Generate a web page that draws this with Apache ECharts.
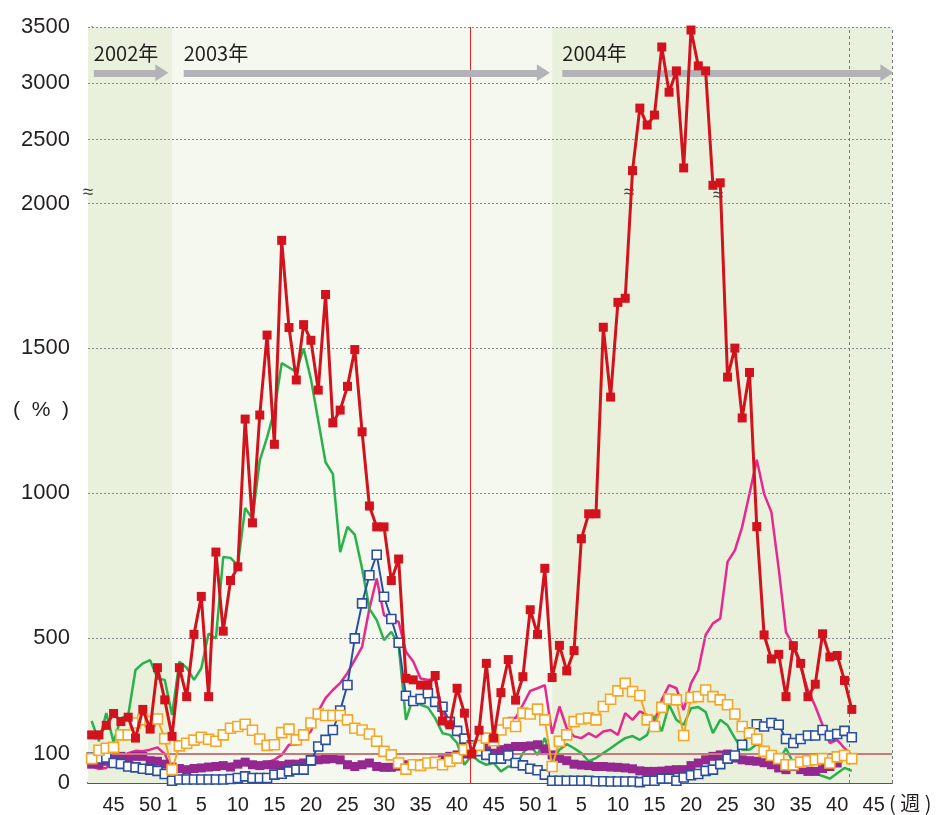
<!DOCTYPE html>
<html>
<head>
<meta charset="utf-8">
<script src="https://cdn.jsdelivr.net/npm/echarts@6.0.0/dist/echarts.min.js"></script>
<style>
html, body { margin: 0; padding: 0; background: #fff; }
#main { width: 942px; height: 815px; }
</style>
</head>
<body>
<div id="main"></div>
<script>
// 週番号 (2002年42週 〜 2004年47週)
var weekNo = [42,43,44,45,46,47,48,49,50,51,52,
    1,2,3,4,5,6,7,8,9,10,11,12,13,14,15,16,17,18,19,20,21,22,23,24,25,26,27,28,29,30,
    31,32,33,34,35,36,37,38,39,40,41,42,43,44,45,46,47,48,49,50,51,52,
    1,2,3,4,5,6,7,8,9,10,11,12,13,14,15,16,17,18,19,20,21,22,23,24,25,26,27,28,29,30,
    31,32,33,34,35,36,37,38,39,40,41,42,43,44,45,46,47];

var yTicks = [0, 100, 500, 1000, 1500, 2000, 2500, 3000, 3500];
var gridValues = [500, 1000, 1500, 2000, 2500, 3000, 3500];

var redData = [166,166,199,240,212,227,155,254,186,398,287,
    161,398,298,513,644,298,797,524,699,746,1256,898,1270,1546,1169,1873,1572,1391,1582,1528,
    1356,1686,1243,1287,1369,1496,1212,956,884,884,699,773,361,356,338,338,371,214,201,327,
    241,100,182,413,155,312,426,286,367,598,513,741,
    364,475,387,457,843,929,929,1573,1332,1659,1673,2258,2778,2629,2717,3321,2918,3107,2279,3473,
    3152,3107,2143,2162,1401,1501,1260,1417,885,511,428,444,298,474,413,298,341,515,435,440,354,254];

var greenData = [214,144,241,141,224,234,390,413,424,361,356,
    235,419,398,356,396,516,499,780,777,751,949,912,1113,1193,1285,1449,1434,1419,1500,1394,
    1251,1107,1067,797,884,857,740,602,562,493,522,476,218,295,270,261,224,172,166,138,
    63,95,75,63,69,40,57,57,103,132,97,155,
    75,115,134,120,103,75,86,103,120,138,155,162,149,166,231,179,270,218,200,258,
    262,245,172,218,199,155,115,115,134,120,100,75,120,69,46,52,34,24,15,34,52,42];

var blueData = [88,84,88,69,66,57,54,49,46,42,31,
    8,12,12,12,12,12,12,12,14,17,23,17,17,17,29,32,40,46,46,78,
    126,149,183,250,338,499,620,717,788,643,566,484,301,283,290,310,280,263,211,180,
    153,130,110,97,84,84,95,69,61,49,44,29,
    8,8,8,8,8,8,6,6,5,5,5,5,3,8,8,15,15,8,19,27,
    31,42,46,65,84,95,132,175,203,195,207,201,152,138,152,164,164,183,164,169,180,158];

var orangeData = [84,113,120,123,166,166,207,218,212,221,153,
    46,128,137,148,158,151,144,166,189,195,203,182,152,130,132,174,186,149,166,207,
    238,233,233,233,218,189,183,169,144,109,97,69,48,63,61,69,71,63,75,86,
    115,120,130,155,146,183,207,195,241,238,255,218,
    57,144,166,212,221,224,218,264,289,318,344,316,302,218,195,261,290,287,164,295,
    298,321,298,287,270,238,195,172,151,109,95,84,63,63,72,77,80,84,69,90,95,84];

var purpleData = [65,65,75,85,92,88,92,92,77,75,65,
    55,50,46,50,52,55,57,60,55,65,72,63,60,63,63,60,65,65,69,75,
    80,82,84,80,63,57,63,69,57,54,54,58,63,63,66,69,75,80,92,97,
    100,103,109,120,103,115,120,126,126,128,132,118,
    97,85,77,65,62,60,57,57,55,54,52,49,42,40,40,41,44,46,46,60,
    69,80,92,97,100,86,80,77,75,70,63,52,46,57,46,40,40,50,57,69];

var pinkData = [60,48,52,75,92,103,111,110,115,123,100,
    45,55,50,55,60,62,58,62,66,70,64,57,69,72,80,97,132,132,155,178,
    247,293,321,345,380,425,470,602,706,579,566,556,453,419,361,356,356,247,201,172,
    140,115,100,120,150,189,224,224,270,318,327,338,
    170,264,189,161,155,172,158,178,183,166,241,218,247,235,212,287,338,327,252,344,
    390,511,551,568,763,803,884,998,1116,998,935,740,520,476,400,320,265,200,138,149,120,95];

// 2000以上は縦軸を圧縮 (値 -> 軸上の位置)
var breakPts = [[0, 0], [2000, 581], [2500, 645], [3000, 702], [3500, 758]];
function toAxis(v) {
    for (var k = 1; k < breakPts.length; k++) {
        if (v <= breakPts[k][0] || k == breakPts.length - 1) {
            var a = breakPts[k - 1], b = breakPts[k];
            return a[1] + (v - a[0]) * (b[1] - a[1]) / (b[0] - a[0]);
        }
    }
}
function fromAxis(p) {
    for (var k = 0; k < yTicks.length; k++) {
        if (Math.abs(toAxis(yTicks[k]) - p) < 0.5) return yTicks[k];
    }
    return '';
}

var myChart;
var FONT = '"Liberation Sans", Arial, sans-serif';

function lineSeries(name, data, color, width, symbol, size, filled, z) {
    return {
        name: name,
        type: 'line',
        z: z,
        data: data.map(function (v) { return toAxis(v); }),
        symbol: symbol,
        symbolSize: size,
        showSymbol: symbol != 'none',
        showAllSymbol: true,
        lineStyle: { color: color, width: width },
        itemStyle: filled ? { color: color } : { color: '#fff', borderColor: color, borderWidth: 1.6 },
        emphasis: { disabled: true }
    };
}

function buildChart() {
    myChart = echarts.init(document.getElementById('main'), null, { renderer: 'canvas' });

    var gridLines = gridValues.map(function (v) { return { yAxis: toAxis(v) }; });

    var arrowStyle = { color: '#b2b2b7', width: 7, type: 'solid' };
    function arrow(x0, x1, text) {
        var y = toAxis(3090);
        return [
            { coord: [x0, y], symbol: 'none', lineStyle: arrowStyle,
              label: { show: true, position: 'insideStartTop', formatter: text, distance: [0, 9],
                       color: '#231f20', fontSize: 20, fontFamily: '"Noto Sans CJK JP", ' + FONT } },
            { coord: [x1, y], symbol: 'triangle', symbolSize: [17, 13] }
        ];
    }

    var option = {
        animation: false,
        backgroundColor: '#fff',
        grid: { left: 88, top: 27, width: 804, height: 758, containLabel: false },
        xAxis: [{
            type: 'category',
            data: weekNo.map(function (w, i) { return String(i); }),
            boundaryGap: true,
            axisLine: { lineStyle: { color: '#555', width: 2 } },
            axisTick: { inside: true, length: 4, interval: 0, alignWithLabel: true, lineStyle: { color: '#666' } },
            axisLabel: {
                interval: function (index) { var w = weekNo[index]; return w == 1 || w % 5 == 0; },
                formatter: function (v, index) { return String(weekNo[index]); },
                fontSize: 20, color: '#231f20', fontFamily: FONT, margin: 12
            },
            splitLine: { show: false }
        }, {
            type: 'value',
            min: -0.5,
            max: weekNo.length - 0.5,
            show: false
        }],
        yAxis: {
            type: 'value',
            min: 0,
            max: toAxis(3500),
            axisLine: { show: true, lineStyle: { color: '#808080', width: 2 } },
            axisTick: { show: true, inside: true, length: 9,
                        customValues: gridValues.slice(0, 6).map(toAxis),
                        lineStyle: { color: '#333', width: 1.5 } },
            axisLabel: {
                customValues: yTicks.map(toAxis),
                formatter: function (v) { return fromAxis(v); },
                fontSize: 22, color: '#231f20', fontFamily: FONT, margin: 18
            },
            splitLine: { show: false }
        },
        graphic: [
            { type: 'text', left: 13, top: 400, style: { text: '(  %  )', fill: '#231f20',
              font: '21px ' + FONT } },
            { type: 'text', left: 889, top: 793, style: { text: '( 週 )', fill: '#231f20',
              font: '20px "Noto Sans CJK JP"' } }
        ],
        series: [
            {
                name: 'bg',
                type: 'line',
                xAxisIndex: 1,
                z: 0,
                data: [],
                silent: true,
                markArea: {
                    silent: true,
                    data: [
                        [{ xAxis: -0.5, itemStyle: { color: '#e9f1dc' } }, { xAxis: 11 }],
                        [{ xAxis: 11, itemStyle: { color: '#f5f8ee' } }, { xAxis: 63 }],
                        [{ xAxis: 63, itemStyle: { color: '#e9f1dc' } }, { xAxis: weekNo.length - 0.5 }]
                    ]
                },
                markLine: {
                    silent: true,
                    symbol: 'none',
                    label: { show: false },
                    lineStyle: { color: '#8a8a8a', type: [2, 2], width: 1 },
                    data: gridLines.concat([
                        { xAxis: 103.65, lineStyle: { color: '#777', type: [3, 3], width: 1 } },
                        { xAxis: weekNo.length - 0.5, lineStyle: { color: '#777', type: [3, 3], width: 1 } },
                        { xAxis: 51.85, lineStyle: { color: '#e0262b', type: 'solid', width: 1 } },
                        { yAxis: toAxis(100), lineStyle: { color: '#c77a78', type: 'solid', width: 2 } }
                    ])
                }
            },
            {
                name: 'arrows',
                type: 'line',
                xAxisIndex: 1,
                z: 1,
                data: [],
                silent: true,
                markLine: {
                    silent: true,
                    symbol: ['none', 'triangle'],
                    data: [
                        arrow(0.3, 9.6, '2002年'),
                        arrow(12.6, 61.8, '2003年'),
                        arrow(64.4, 108.8, '2004年')
                    ]
                }
            },
            lineSeries('pink', pinkData, '#e8288f', 2.5, 'none', 0, true, 2),
            lineSeries('green', greenData, '#2bb14b', 2.5, 'none', 0, true, 3),
            lineSeries('purple', purpleData, '#952791', 4, 'rect', 9, true, 4),
            lineSeries('blue', blueData, '#2a4ea0', 2, 'rect', 9, false, 5),
            lineSeries('orange', orangeData, '#f6a623', 2, 'rect', 10, false, 6),
            lineSeries('red', redData, '#d2121c', 3, 'rect', 9, true, 7),
            {
                // 縦軸を圧縮した箇所の印
                name: 'marks',
                type: 'line',
                xAxisIndex: 1,
                z: 8,
                data: [],
                silent: true,
                markPoint: {
                    silent: true,
                    symbol: 'rect',
                    symbolSize: 1,
                    itemStyle: { color: 'rgba(0,0,0,0)' },
                    label: { show: true, formatter: '≈', color: '#444', fontSize: 19, fontFamily: FONT },
                    data: [
                        { coord: [-0.5, toAxis(2085)] },
                        { coord: [73.5, toAxis(2085)] },
                        { coord: [85.7, toAxis(2060)] }
                    ]
                }
            }
        ]
    };

    myChart.setOption(option);
}

buildChart();
</script>
</body>
</html>
